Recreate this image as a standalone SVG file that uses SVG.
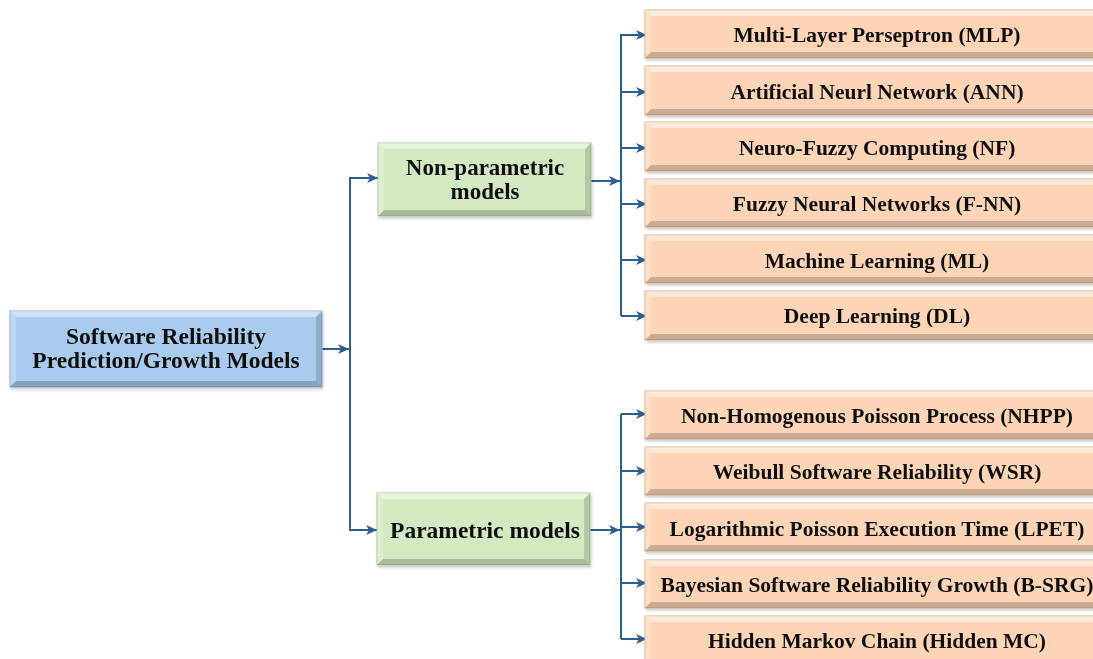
<svg xmlns="http://www.w3.org/2000/svg" width="1093" height="659" viewBox="0 0 1093 659">
<defs>
<style>
.t{font-family:"Liberation Serif","Times New Roman",serif;font-weight:bold;fill:#111;text-anchor:middle}
.t20{font-size:21.5px}
.t21{font-size:23.5px}
.t22{font-size:23px}
.hl{fill:#fff;opacity:.45}
.hl2{fill:#fff;opacity:.25}
.sh{fill:#000;opacity:.14}
.sh2{fill:#000;opacity:.2}
.blue{fill:#a8cbee;stroke:#8aa9c8;stroke-width:1}
.green{fill:#d2e9c2;stroke:#a8c498;stroke-width:1}
.orange{fill:#fdd5b6;stroke:#d4ac8e;stroke-width:1}
.c{fill:none;stroke:#2e5e8c;stroke-width:2}
</style>
<marker id="ah" markerUnits="userSpaceOnUse" markerWidth="12" markerHeight="10" refX="11" refY="5" orient="auto">
<path d="M0,0 L11,5 L0,10 L3,5 z" fill="#2e5e8c"/>
</marker>
<filter id="ds" x="-5%" y="-10%" width="110%" height="130%">
<feDropShadow dx="1" dy="2" stdDeviation="1.5" flood-color="#000" flood-opacity="0.2"/>
</filter>
</defs>

<g id="connectors">
<path class="c" d="M322,349 H349" marker-end="url(#ah)"/>
<path class="c" d="M350,530 V178 H378" marker-end="url(#ah)"/>
<path class="c" d="M350,349 V530 H377" marker-end="url(#ah)"/>
<path class="c" d="M591,181 H620" marker-end="url(#ah)"/>
<path class="c" d="M621,34 V316"/>
<path class="c" d="M621,35 H647" marker-end="url(#ah)"/>
<path class="c" d="M621,92 H647" marker-end="url(#ah)"/>
<path class="c" d="M621,148 H647" marker-end="url(#ah)"/>
<path class="c" d="M621,204 H647" marker-end="url(#ah)"/>
<path class="c" d="M621,260 H647" marker-end="url(#ah)"/>
<path class="c" d="M621,316 H647" marker-end="url(#ah)"/>
<path class="c" d="M590,530 H620" marker-end="url(#ah)"/>
<path class="c" d="M621,414 V639"/>
<path class="c" d="M621,414 H647" marker-end="url(#ah)"/>
<path class="c" d="M621,471 H647" marker-end="url(#ah)"/>
<path class="c" d="M621,527 H647" marker-end="url(#ah)"/>
<path class="c" d="M621,583 H647" marker-end="url(#ah)"/>
<path class="c" d="M621,639 H647" marker-end="url(#ah)"/>
</g>

<g id="root" filter="url(#ds)">
<rect class="blue" x="10" y="311" width="312" height="76"/>
<polygon class="hl" points="10,311 322,311 316,317 16,317"/>
<polygon class="hl2" points="10,311 16,317 16,381 10,387"/>
<polygon class="sh" points="322,311 322,387 316,381 316,317"/>
<polygon class="sh2" points="10,387 322,387 316,381 16,381"/>
<text class="t t21" x="166" y="344">Software Reliability</text>
<text class="t t21" x="166" y="368">Prediction/Growth Models</text>
</g>

<g id="nonparam" filter="url(#ds)">
<rect class="green" x="378" y="143" width="213" height="73"/>
<polygon class="hl" points="378,143 591,143 585,149 384,149"/>
<polygon class="hl2" points="378,143 384,149 384,210 378,216"/>
<polygon class="sh" points="591,143 591,216 585,210 585,149"/>
<polygon class="sh2" points="378,216 591,216 585,210 384,210"/>
<text class="t t22" x="485" y="175">Non-parametric</text>
<text class="t t22" x="485" y="199">models</text>
</g>

<g id="param" filter="url(#ds)">
<rect class="green" x="377" y="493" width="213" height="72"/>
<polygon class="hl" points="377,493 590,493 584,499 383,499"/>
<polygon class="hl2" points="377,493 383,499 383,559 377,565"/>
<polygon class="sh" points="590,493 590,565 584,559 584,499"/>
<polygon class="sh2" points="377,565 590,565 584,559 383,559"/>
<text class="t t21" x="485" y="538">Parametric models</text>
</g>

<g id="mlp" filter="url(#ds)">
<rect class="orange" x="645" y="10" width="465" height="48"/>
<polygon class="hl" points="645,10 1110,10 1104,16 651,16"/>
<polygon class="hl2" points="645,10 651,16 651,52 645,58"/>
<polygon class="sh2" points="645,58 1110,58 1104,52 651,52"/>
<text class="t t20" x="877" y="42">Multi-Layer Perseptron (MLP)</text>
</g>
<g id="ann" filter="url(#ds)">
<rect class="orange" x="645" y="66" width="465" height="49"/>
<polygon class="hl" points="645,66 1110,66 1104,72 651,72"/>
<polygon class="hl2" points="645,66 651,72 651,109 645,115"/>
<polygon class="sh2" points="645,115 1110,115 1104,109 651,109"/>
<text class="t t20" x="877" y="99">Artificial Neurl Network (ANN)</text>
</g>
<g id="nf" filter="url(#ds)">
<rect class="orange" x="645" y="122" width="465" height="49"/>
<polygon class="hl" points="645,122 1110,122 1104,128 651,128"/>
<polygon class="hl2" points="645,122 651,128 651,165 645,171"/>
<polygon class="sh2" points="645,171 1110,171 1104,165 651,165"/>
<text class="t t20" x="877" y="155">Neuro-Fuzzy Computing (NF)</text>
</g>
<g id="fnn" filter="url(#ds)">
<rect class="orange" x="645" y="179" width="465" height="48"/>
<polygon class="hl" points="645,179 1110,179 1104,185 651,185"/>
<polygon class="hl2" points="645,179 651,185 651,221 645,227"/>
<polygon class="sh2" points="645,227 1110,227 1104,221 651,221"/>
<text class="t t20" x="877" y="211">Fuzzy Neural Networks (F-NN)</text>
</g>
<g id="ml" filter="url(#ds)">
<rect class="orange" x="645" y="235" width="465" height="48"/>
<polygon class="hl" points="645,235 1110,235 1104,241 651,241"/>
<polygon class="hl2" points="645,235 651,241 651,277 645,283"/>
<polygon class="sh2" points="645,283 1110,283 1104,277 651,277"/>
<text class="t t20" x="877" y="268">Machine Learning (ML)</text>
</g>
<g id="dl" filter="url(#ds)">
<rect class="orange" x="645" y="291" width="465" height="49"/>
<polygon class="hl" points="645,291 1110,291 1104,297 651,297"/>
<polygon class="hl2" points="645,291 651,297 651,334 645,340"/>
<polygon class="sh2" points="645,340 1110,340 1104,334 651,334"/>
<text class="t t20" x="877" y="323">Deep Learning (DL)</text>
</g>

<g id="nhpp" filter="url(#ds)">
<rect class="orange" x="645" y="391" width="465" height="48"/>
<polygon class="hl" points="645,391 1110,391 1104,397 651,397"/>
<polygon class="hl2" points="645,391 651,397 651,433 645,439"/>
<polygon class="sh2" points="645,439 1110,439 1104,433 651,433"/>
<text class="t t20" x="877" y="423">Non-Homogenous Poisson Process (NHPP)</text>
</g>
<g id="wsr" filter="url(#ds)">
<rect class="orange" x="645" y="447" width="465" height="48"/>
<polygon class="hl" points="645,447 1110,447 1104,453 651,453"/>
<polygon class="hl2" points="645,447 651,453 651,489 645,495"/>
<polygon class="sh2" points="645,495 1110,495 1104,489 651,489"/>
<text class="t t20" x="877" y="479">Weibull Software Reliability (WSR)</text>
</g>
<g id="lpet" filter="url(#ds)">
<rect class="orange" x="645" y="503" width="465" height="48"/>
<polygon class="hl" points="645,503 1110,503 1104,509 651,509"/>
<polygon class="hl2" points="645,503 651,509 651,545 645,551"/>
<polygon class="sh2" points="645,551 1110,551 1104,545 651,545"/>
<text class="t t20" x="877" y="536">Logarithmic Poisson Execution Time (LPET)</text>
</g>
<g id="bsrg" filter="url(#ds)">
<rect class="orange" x="645" y="560" width="465" height="48"/>
<polygon class="hl" points="645,560 1110,560 1104,566 651,566"/>
<polygon class="hl2" points="645,560 651,566 651,602 645,608"/>
<polygon class="sh2" points="645,608 1110,608 1104,602 651,602"/>
<text class="t t20" x="877" y="592">Bayesian Software Reliability Growth (B-SRG)</text>
</g>
<g id="hmc" filter="url(#ds)">
<rect class="orange" x="645" y="616" width="465" height="48"/>
<polygon class="hl" points="645,616 1110,616 1104,622 651,622"/>
<polygon class="hl2" points="645,616 651,622 651,658 645,664"/>
<text class="t t20" x="877" y="648">Hidden Markov Chain (Hidden MC)</text>
</g>
</svg>
